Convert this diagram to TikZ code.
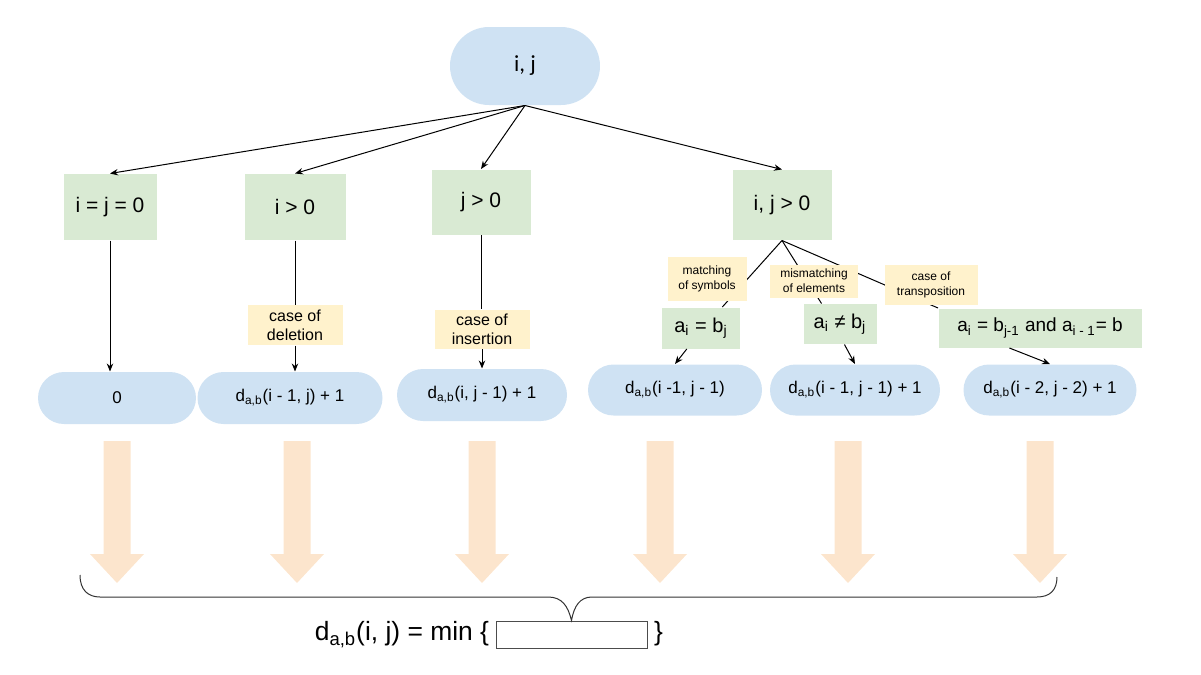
\documentclass[tikz,border=0pt]{standalone}
\usepackage{fontspec}
\setmainfont{Liberation Sans}
\newfontfamily\topfont{Carlito}
\usetikzlibrary{shapes.misc,arrows.meta,calc}

\definecolor{pillblue}{HTML}{CFE2F3}
\definecolor{condgreen}{HTML}{D9EAD3}
\definecolor{noteyellow}{HTML}{FFF2CC}
\definecolor{bigarrow}{HTML}{FCE5CD}

\newcommand{\subs}[1]{\textsubscript{#1}}

\tikzset{
  pill/.style={rounded rectangle, fill=pillblue, inner sep=0pt, minimum height=26pt, font=\fontsize{8.5}{10}\selectfont},
  cond/.style={rectangle, fill=condgreen, inner sep=0pt, font=\fontsize{10.5}{12}\selectfont},
  note/.style={rectangle, fill=noteyellow, inner sep=0pt, align=center, font=\fontsize{8}{9.5}\selectfont},
  smallnote/.style={note, font=\fontsize{6}{7.5}\selectfont},
  flow/.style={-{Stealth[length=4pt,width=3.2pt]}},
}

\begin{document}
\begin{tikzpicture}[x=0.5pt, y=-0.5pt, line width=0.5pt]

% Frame
\useasboundingbox (0,0) rectangle (1201,675);

% Start state
\node[pill, minimum width=75pt, minimum height=39pt, font=\topfont\fontsize{11.5}{13}\selectfont] (ij) at (525,66) {i, j};

% Conditions
\node[cond, minimum width=46.5pt, minimum height=33pt] (c0) at (110,207) {i = j = 0};
\node[cond, minimum width=50.5pt, minimum height=33pt] (cdel) at (295,207) {i > 0};
\node[cond, minimum width=49.5pt, minimum height=32.5pt] (cins) at (481,202) {j > 0};
\node[cond, minimum width=49.5pt, minimum height=35pt] (cboth) at (782,205) {i, j > 0};

% Sub-conditions of i, j > 0
\node[cond, minimum width=39pt, minimum height=20.5pt, font=\fontsize{10}{12}\selectfont] (aeq) at (701,328) {a\subs{i} = b\subs{j}};
\node[cond, minimum width=36.5pt, minimum height=20pt, font=\fontsize{10}{12}\selectfont] (aneq) at (840,324) {a\subs{i} ≠ b\subs{j}};
\node[cond, minimum width=101.5pt, minimum height=19.5pt, font=\fontsize{9.5}{11}\selectfont] (atr) at (1040,328) {a\subs{i} = b\subs{j-1} and a\subs{i - 1}= b};

% Results
\node[pill, minimum width=79pt] (p0) at (117,398) {0};
\node[pill, minimum width=92.5pt] (pdel) at (290,398) {d\subs{a,b}(i - 1, j) + 1};
\node[pill, minimum width=85pt] (pins) at (482,395) {d\subs{a,b}(i, j - 1) + 1};
\node[pill, minimum width=87pt, minimum height=25.5pt] (pmatch) at (675,390) {d\subs{a,b}(i -1, j - 1)};
\node[pill, minimum width=85pt, minimum height=25.5pt] (pmis) at (855,390) {d\subs{a,b}(i - 1, j - 1) + 1};
\node[pill, minimum width=86.5pt, minimum height=25.5pt] (ptrans) at (1050,390) {d\subs{a,b}(i - 2, j - 2) + 1};

% Deletion and insertion notes
\node[note, minimum width=47.5pt, minimum height=20pt] (ndel) at (295,325) {case of\\deletion};
\node[note, minimum width=47.5pt, minimum height=19.5pt] (nins) at (482,329) {case of\\insertion};

% Branches from the start
\foreach \c in {c0,cdel,cins,cboth}
  \draw[flow] (ij.south) -- (\c.north);

% Straight branches
\draw[flow] (c0.south) -- (c0.south |- p0.north);
\draw (cdel.south) -- (ndel.north);
\draw[flow] (ndel.south) -- (ndel.south |- pdel.north);
\draw (cins.south) -- (cins.south |- nins.north);
\draw[flow] (nins.south) -- (nins.south |- pins.north);

% Branches of i, j > 0 (notes go on top)
\coordinate (aeqin) at ($(aeq.north west)!0.77!(aeq.north east)$);
\coordinate (aneqin) at ($(aneq.north west)!0.25!(aneq.north east)$);
\draw (cboth.south) -- (aeqin);
\draw (cboth.south) -- (aneqin);
\draw (cboth.south) -- (atr.north west);

\node[smallnote, minimum width=39.5pt, minimum height=22pt] (nmatch) at (707,279) {matching\\of symbols};
\node[smallnote, minimum width=44pt, minimum height=16.5pt] (nmis) at (814,281) {mismatching\\of elements};
\node[smallnote, minimum width=46.5pt, minimum height=20pt] (ntr) at (931,285) {case of\\transposition};

\draw[flow] ($(aeq.south west)!0.32!(aeq.south east)$) -- (pmatch.north);
\draw[flow] ($(aneq.south west)!0.56!(aneq.south east)$) -- (pmis.north);
\draw[flow] ($(atr.south west)!0.35!(atr.south east)$) -- (ptrans.north);

% Big arrows down to the minimum
\foreach \ax in {117,297,482,660,848,1040}
  \fill[bigarrow] (\ax-13.5,441) -- (\ax+13.5,441) -- (\ax+13.5,554) -- (\ax+27,554)
    -- (\ax,583) -- (\ax-27,554) -- (\ax-13.5,554) -- cycle;

% Minimum slot
\node[draw=black!70, fill=white, inner sep=0pt, minimum width=75.5pt, minimum height=13.5pt] (slot) at (571.5,634.5) {};
\node[anchor=base east, inner sep=0pt, font=\fontsize{13.2}{15}\selectfont] (lhs) at ($(slot.west)+(-6,6)$) {d\subs{a,b}(i, j) = min \{};
\node[anchor=base west, inner sep=0pt, font=\fontsize{13.2}{15}\selectfont] (rb) at ($(slot.east)+(6,6)$) {\}};

% Brace
\coordinate (bl) at (80,575);
\coordinate (br) at (1057,577);
\draw[black!80] (bl) .. controls (80,590) and (88,597) .. (100,597) -- (548,597)
  .. controls (562,597) and (568,606) .. (slot.north)
  .. controls (574,606) and (580,597) .. (592,597) -- (1037,597)
  .. controls (1050,597) and (1057,590) .. (br);

\end{tikzpicture}
\end{document}
